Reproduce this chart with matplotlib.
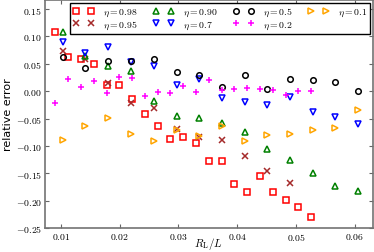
import matplotlib
matplotlib.use("Agg")
import matplotlib.pyplot as plt
from matplotlib.ticker import FormatStrFormatter

plt.rcParams['mathtext.fontset'] = 'cm'
plt.rcParams['font.family'] = 'DejaVu Sans'

# R_L/L positions (two grids used by the runs)
rl_fine = [0.00903, 0.01129, 0.01344, 0.0156, 0.01779, 0.0199, 0.02215,
           0.02425, 0.02646, 0.0286, 0.03078, 0.0329, 0.03516, 0.03732,
           0.03952, 0.04166, 0.04381, 0.04605, 0.04823, 0.05038, 0.05259]
rl_coarse = [0.01029, 0.01417, 0.01802, 0.02192, 0.02578, 0.02968, 0.03352,
             0.03737, 0.04127, 0.04511, 0.04897, 0.05286, 0.05668, 0.06058]

# relative error per eta
err_098 = [0.1074, 0.0629, 0.0592, 0.0495, 0.0115, 0.011, -0.0141, -0.0422,
           -0.063, -0.0869, -0.0843, -0.0942, -0.1283, -0.1283, -0.1694,
           -0.1846, -0.1552, -0.1846, -0.1992, -0.212, -0.2298]
err_095 = [0.0735, 0.0592, 0.0148, -0.022, -0.0312, -0.0682, -0.0838,
           -0.0896, -0.1177, -0.1457, -0.1681]
err_090 = [0.1087, 0.0638, 0.0469, 0.0378, -0.0174, -0.0453, -0.0499,
           -0.0587, -0.074, -0.1058, -0.1265, -0.1492, -0.173, -0.1822]
err_07 = [0.0894, 0.0706, 0.0799, 0.054, 0.0469, 0.0115, 0.0216, -0.0132,
          -0.0191, -0.0251, -0.0114, -0.0385, -0.0477, -0.0599]
err_05 = [0.0623, 0.0427, 0.055, 0.0555, 0.0592, 0.0348, 0.0299, 0.0073,
          0.029, 0.0042, 0.0225, 0.0213, 0.0165, 0.0011]
err_02 = [-0.0209, 0.022, 0.0084, 0.0183, -0.0031, 0.0257, 0.0244, -0.0092,
          -0.0007, -0.0037, 0.0088, -0.0018, 0.0207, 0.0029, 0.0042, 0.0055,
          0.0042, 0.0029, -0.0064, 0.0005, 0.0005]
err_01 = [-0.0893, -0.064, -0.0499, -0.0788, -0.0911, -0.0704, -0.0825,
          -0.0641, -0.0905, -0.0801, -0.0777, -0.0704, -0.0667, -0.0337]

xticks = [0.01, 0.02, 0.03, 0.04, 0.05, 0.06]
yticks = [-0.25, -0.20, -0.15, -0.10, -0.05, 0.00, 0.05, 0.10, 0.15]

fig = plt.figure(figsize=(3.74, 2.53), dpi=100)
ax = fig.add_axes([0.1203, 0.0949, 0.8757, 0.9019])

hollow = dict(ls='none', mfc='none', ms=4, mew=1.1)
ax.plot(rl_fine, err_098, 's', mec='red', label=r'$\eta=0.98$', **hollow)
ax.plot(rl_coarse[:len(err_095)], err_095, 'x', color='#a52a2a', ls='none',
        ms=3.8, mew=1.1, label=r'$\eta=0.95$')
ax.plot(rl_coarse, err_090, '^', mec='green', label=r'$\eta=0.90$',
        **dict(hollow, ms=4.4))
ax.plot(rl_coarse, err_07, 'v', mec='blue', label=r'$\eta=0.7$',
        **dict(hollow, ms=4.4))
ax.plot(rl_coarse, err_05, 'o', mec='black', label=r'$\eta=0.5$', **hollow)
ax.plot(rl_fine, err_02, '+', color='magenta', ls='none', ms=4.2, mew=1.1,
        label=r'$\eta=0.2$')
ax.plot(rl_coarse, err_01, '>', mec='orange', label=r'$\eta=0.1$',
        **dict(hollow, ms=4.4))

ax.set_xlim(0.0073, 0.063)
ax.set_ylim(-0.25, 0.167)
ax.set_xticks(xticks)
ax.set_yticks(yticks)
ax.xaxis.set_major_formatter(FormatStrFormatter(r'$%.2f$'))
ax.yaxis.set_major_formatter(FormatStrFormatter(r'$%.2f$'))
ax.tick_params(direction='in', length=3, width=0.8, labelsize=7, pad=2,
               top=True, right=True, color='0.4')
for sp in ax.spines.values():
    sp.set_color('0.45')
    sp.set_linewidth(1.2)

ax.set_xlabel(r'$R_\mathrm{L}/L$', fontsize=8, labelpad=-5)
ax.set_ylabel('relative error', fontsize=8, labelpad=2)

leg = ax.legend(ncol=4, numpoints=2, loc='upper right',
                bbox_to_anchor=(0.992, 0.986), borderaxespad=0,
                fontsize=7, handlelength=2.15, handletextpad=0.9,
                columnspacing=1.6, labelspacing=0.05, borderpad=0.3,
                fancybox=False, framealpha=1)
leg.get_frame().set_edgecolor('black')
leg.get_frame().set_linewidth(1.0)

fig.savefig('out.png', dpi=100)
